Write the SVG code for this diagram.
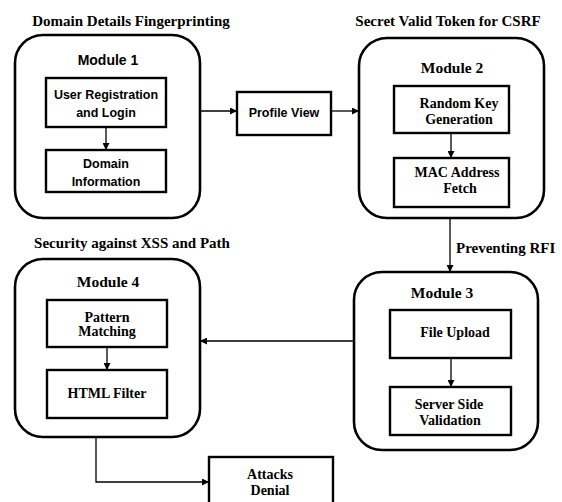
<svg xmlns="http://www.w3.org/2000/svg" width="562" height="502" viewBox="0 0 562 502">
<defs>
<marker id="ah" viewBox="0 0 10 10" refX="10" refY="5" markerWidth="7" markerHeight="7" markerUnits="userSpaceOnUse" orient="auto">
<path d="M0,0 L10,5 L0,10 z" fill="#000"/>
</marker>
<style>
.mod{fill:#fff;stroke:#000;stroke-width:2.6}
.box{fill:#fff;stroke:#000;stroke-width:2.4}
.c{fill:none;stroke:#000;stroke-width:1.3}
.s{font-family:"Liberation Sans",Arial,sans-serif;font-weight:bold;font-size:12.5px;text-anchor:middle}
.sm{font-family:"Liberation Sans",Arial,sans-serif;font-weight:bold;font-size:14px;text-anchor:middle}
.t{font-family:"Liberation Serif","Times New Roman",serif;font-weight:bold;font-size:14px;text-anchor:middle}
.tm{font-family:"Liberation Serif","Times New Roman",serif;font-weight:bold;font-size:15.5px;text-anchor:middle}
.h{font-family:"Liberation Serif","Times New Roman",serif;font-weight:bold;font-size:15px}
</style>
</defs>
<rect width="562" height="502" fill="#fff"/>
<g id="titles">
<text class="h" x="131" y="26" text-anchor="middle">Domain Details Fingerprinting</text>
<text class="h" x="448" y="26" text-anchor="middle">Secret Valid Token for CSRF</text>
<text class="h" x="132" y="248" text-anchor="middle">Security against XSS and Path</text>
<text class="h" x="456" y="253">Preventing RFI</text>
</g>
<g id="module1">
<rect class="mod" x="15" y="35" width="185" height="183" rx="28"/>
<text class="sm" x="108" y="65">Module 1</text>
<rect class="box" x="46" y="78" width="120" height="49"/>
<text class="s" x="106" y="99">User Registration</text>
<text class="s" x="106" y="117">and Login</text>
<rect class="box" x="46" y="150" width="120" height="42"/>
<text class="s" x="106" y="168">Domain</text>
<text class="s" x="106" y="186">Information</text>
</g>
<g id="profile">
<rect class="box" x="237" y="92" width="94" height="43"/>
<text class="s" x="284" y="117">Profile View</text>
</g>
<g id="module2">
<rect class="mod" x="359" y="38" width="185" height="180" rx="28"/>
<text class="tm" x="452" y="73">Module 2</text>
<rect class="box" x="394" y="86" width="115" height="47"/>
<text class="t" x="459" y="108">Random Key</text>
<text class="t" x="459" y="124">Generation</text>
<rect class="box" x="394" y="158" width="115" height="49"/>
<text class="t" x="457" y="177">MAC Address</text>
<text class="t" x="460" y="193">Fetch</text>
</g>
<g id="module3">
<rect class="mod" x="354" y="272" width="184" height="178" rx="28"/>
<text class="tm" x="442" y="298">Module 3</text>
<rect class="box" x="390" y="310" width="121" height="48"/>
<text class="t" x="455" y="337">File Upload</text>
<rect class="box" x="390" y="387" width="121" height="48"/>
<text class="t" x="449" y="409">Server Side</text>
<text class="t" x="450" y="425">Validation</text>
</g>
<g id="module4">
<rect class="mod" x="15" y="259" width="185" height="178" rx="28"/>
<text class="tm" x="108" y="287">Module 4</text>
<rect class="box" x="47" y="300" width="120" height="47"/>
<text class="t" x="107" y="322">Pattern</text>
<text class="t" x="107" y="336">Matching</text>
<rect class="box" x="47" y="370" width="120" height="48"/>
<text class="t" x="107" y="398">HTML Filter</text>
</g>
<g id="attacks">
<rect class="box" x="209" y="457" width="124" height="50"/>
<text class="t" x="270" y="479">Attacks</text>
<text class="t" x="270" y="495">Denial</text>
</g>
<g id="connectors">
<path class="c" d="M106,127 L106,150" marker-end="url(#ah)"/>
<path class="c" d="M200,111 L237,111" marker-end="url(#ah)"/>
<path class="c" d="M331,111 L359,111" marker-end="url(#ah)"/>
<path class="c" d="M451,133 L451,158" marker-end="url(#ah)"/>
<path class="c" d="M450,218 L450,272" marker-end="url(#ah)"/>
<path class="c" d="M451,358 L451,387" marker-end="url(#ah)"/>
<path class="c" d="M354,341 L200,341" marker-end="url(#ah)"/>
<path class="c" d="M107,347 L107,370" marker-end="url(#ah)"/>
<path class="c" d="M96,437 L96,482 L209,482" marker-end="url(#ah)"/>
</g>
</svg>
